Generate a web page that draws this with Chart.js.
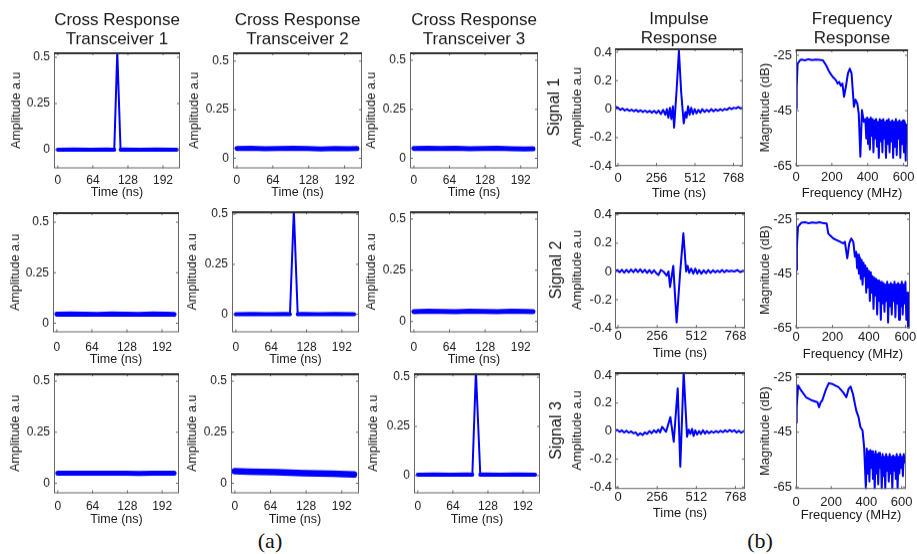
<!DOCTYPE html>
<html>
<head>
<meta charset="UTF-8">
<title>Cross, impulse and frequency responses</title>
<script src="https://cdn.jsdelivr.net/npm/chart.js"></script>
<style>
  html, body { margin: 0; padding: 0; background: #fff; overflow: hidden; }
  body { width: 917px; height: 554px; position: relative; }
  .tag {
    position: absolute;
    font-family: "Liberation Serif", "Times New Roman", serif;
    font-size: 22px;
    color: #111;
    transform: translate(-50%, -50%);
  }
</style>
</head>
<body>
<div class="tag" style="left:270px;top:541px">(a)</div>
<div class="tag" style="left:760px;top:541px">(b)</div>
<script>
// tick labels
const crossTicksX = [0, 64, 128, 192];
const crossTicksY = [0, 0.25, 0.5];
const impTicksX = [0, 256, 512, 768];
const impTicksY = [-0.4, -0.2, 0, 0.2, 0.4];
const freqTicksX = [0, 200, 400, 600];
const freqTicksY = [-65, -45, -25];

// (a) cross responses, time in ns
const flatT = [0, 25, 50, 75, 100, 125, 150, 175, 200, 214];
const crossT11 = [0, 30, 60, 90, 100, 103, 108.5, 114.5, 120, 150, 180, 217];
const crossA11 = [0, 0.002, 0, 0.002, 0, 0, 0.53, 0, 0.002, 0, 0.002, 0];
const crossA12 = [0.05, 0.051, 0.049, 0.05, 0.052, 0.05, 0.048, 0.05, 0.049, 0.05];
const crossA13 = [0.05, 0.052, 0.05, 0.051, 0.049, 0.05, 0.051, 0.049, 0.048, 0.049];
const crossA21 = [0.045, 0.046, 0.045, 0.044, 0.046, 0.045, 0.044, 0.046, 0.045, 0.044];
const crossT22 = [0, 30, 60, 90, 98, 105, 112, 120, 150, 180, 214];
const crossA22 = [0, 0.002, 0, 0.002, 0, 0.52, 0, 0.002, 0, 0.002, 0];
const crossA23 = [0.048, 0.05, 0.049, 0.048, 0.05, 0.049, 0.048, 0.05, 0.049, 0.048];
const crossA31 = [0.049, 0.05, 0.049, 0.049, 0.05, 0.049, 0.048, 0.049, 0.05, 0.049];
const crossA32 = [0.059, 0.057, 0.056, 0.054, 0.052, 0.05, 0.048, 0.047, 0.045, 0.043];
const crossT33 = [0, 30, 60, 90, 99.5, 106, 114, 120, 150, 180, 214];
const crossA33 = [0.005, 0.006, 0.004, 0.006, 0.005, 0.53, 0.005, 0.006, 0.004, 0.006, 0.005];

// (b) impulse responses, time in ns
const impT1 = [-18, -10, 0, 15, 30, 45, 60, 75, 90, 105, 120, 135, 150, 165, 180, 195, 210, 225, 240, 255,
  270, 285, 300, 315, 325, 335, 345, 355, 365, 373, 390, 405, 420, 437, 448, 456, 466, 476, 487, 498,
  510, 522, 535, 548, 560, 575, 590, 605, 620, 635, 650, 665, 680, 695, 710, 725, 740, 755, 770, 785,
  800, 815, 830];
const impA1 = [0, 0.015, 0.01, -0.005, 0.005, -0.01, 0, -0.012, -0.003, -0.015, -0.005, -0.018, -0.008, -0.02, -0.01, -0.022, -0.012, -0.025, -0.012, -0.028,
  -0.01, -0.035, -0.005, -0.04, 0, -0.06, 0.01, -0.07, 0.02, -0.13, 0.14, 0.41, 0.12, -0.1, -0.02, -0.06, 0.02, -0.04, 0.01, -0.035,
  0, -0.03, -0.005, -0.025, 0, -0.02, -0.005, -0.018, 0, -0.015, -0.002, -0.012, 0, -0.01, 0.002, -0.005, 0.01, 0, 0.01, 0.005,
  0.015, 0.005, 0.01];
const impT2 = [-18, -5, 10, 25, 40, 55, 70, 85, 100, 115, 130, 145, 160, 175, 190, 205, 220, 235, 250, 264,
  280, 296, 308, 318, 330, 340, 361, 383, 405, 427, 445, 455, 465, 478, 492, 505, 518, 530, 545, 560,
  575, 590, 605, 620, 635, 650, 665, 680, 695, 710, 725, 740, 760, 780, 800, 815, 830];
const impA2 = [0, 0.01, -0.005, 0.012, -0.008, 0.012, -0.006, 0.014, -0.005, 0.015, -0.004, 0.015, -0.006, 0.012, -0.01, 0.01, -0.012, 0.008, -0.012, -0.025,
  0.01, 0, -0.015, -0.03, 0, -0.11, 0.04, -0.36, -0.02, 0.27, 0, 0.04, -0.01, 0.02, -0.015, 0.02, -0.015, 0.01, -0.015, 0.008,
  -0.012, 0.01, -0.01, 0.008, -0.006, 0.006, -0.005, 0.01, -0.005, 0.008, 0, 0.005, 0, 0.01, -0.005, 0.005, 0];
const impT3 = [-18, -5, 10, 25, 40, 55, 70, 85, 100, 115, 130, 145, 160, 175, 190, 205, 220, 235, 250, 262,
  275, 288, 314, 342, 364, 390, 407, 429, 451, 462, 473, 484, 494, 505, 517, 530, 542, 555, 568, 580,
  595, 610, 625, 640, 655, 670, 685, 700, 715, 730, 745, 760, 775, 790, 805, 820, 830];
const impA3 = [0, 0.008, -0.005, 0.005, -0.01, 0.002, -0.012, -0.002, -0.015, -0.01, -0.03, -0.015, -0.028, -0.01, -0.02, 0, -0.015, 0.005, -0.01, 0.01,
  -0.01, 0.03, -0.005, 0.1, -0.076, 0.305, -0.255, 0.42, -0.04, 0.01, -0.02, 0.015, -0.035, 0.005, -0.025, 0, -0.02, 0.005, -0.018, 0,
  -0.015, -0.002, -0.012, 0, -0.01, 0.002, -0.008, 0.005, -0.005, 0.008, -0.004, 0.006, -0.01, 0.002, -0.012, 0, -0.01];

// (b) frequency responses, MHz and dB
const freqF1 = [0, 4, 9, 22, 30, 50, 70, 90, 110, 130, 150, 168, 186, 205, 223, 232, 241, 250, 259, 268,
  278, 290, 300, 310, 323, 332, 342, 350, 359, 368, 378, 387,
  392, 397, 402, 407, 412, 417, 422, 427, 432, 437, 442, 447, 452, 457, 462, 467, 472, 477, 482, 487,
  492, 497, 502, 507, 512, 517, 522, 527, 532, 537, 542, 547, 552, 557, 562, 567, 572, 577, 582, 587,
  592, 597, 602, 607, 612, 615];
const magF1 = [-44.2, -36.4, -28, -26.8, -26.5, -26.8, -26.4, -26.7, -26.5, -26.6, -26.8, -28.6, -31, -32.8, -34, -35.2, -34.6, -36, -35.2, -40,
  -36.4, -31.5, -29.8, -31.5, -43.6, -41, -42.4, -46, -61.6, -44.8, -49, -48,
  -55, -47.5, -57, -48, -59, -47.5, -54, -48, -60, -48.5, -55, -48, -58, -49, -62, -48, -56, -48.5, -60, -48,
  -55, -49, -62, -48.5, -57, -48, -60, -49, -56, -48.5, -62, -49, -58, -48, -61, -49, -55, -48.5, -62, -49,
  -57, -48.5, -60, -49, -63, -50];
const freqF2 = [0, 5, 11, 29, 50, 70, 90, 110, 130, 150, 168, 177, 186, 205, 223, 241, 259, 268, 281, 292,
  303, 314, 323, 330, 335, 340, 345, 350, 355, 360, 365, 370, 375, 380, 385, 390, 395, 400, 405, 410,
  415, 420, 425, 430, 435, 440, 445, 450, 455, 460, 465, 470, 475, 480, 485, 490, 495, 500, 505, 510,
  515, 520, 525, 530, 535, 540, 545, 550, 555, 560, 565, 570, 575, 580, 585, 590, 595, 600, 605, 610, 614];
const magF2 = [-43.7, -35, -27.8, -26.3, -26.1, -26.5, -26.2, -26.4, -26.1, -26.5, -26.6, -30.3, -30.9, -32.1, -32.7, -33.3, -33.9, -33.3, -39.4, -33.9,
  -32.1, -33.3, -38.8, -37, -43, -38, -45, -39, -47, -40, -49, -41, -46, -42, -52, -43, -50, -44, -55, -44.5,
  -52, -46, -58, -46.5, -53, -47, -60, -47.5, -55, -48, -62, -48, -56, -48.5, -59, -49, -55, -48, -63, -49,
  -57, -48.5, -60, -49, -55, -48, -61, -49, -56, -48.5, -62, -49, -57, -48, -60, -49, -56, -48, -62, -52, -64.5];
const freqF3 = [0, 4, 12, 29, 57, 93, 122, 131, 140, 149, 168, 186, 205, 223, 241, 268, 286, 299, 310, 323,
  342, 355, 366, 378, 387,
  392, 397, 402, 407, 412, 417, 422, 427, 432, 437, 442, 447, 452, 457, 462, 467, 472, 477, 482, 487,
  492, 497, 502, 507, 512, 517, 522, 527, 532, 537, 542, 547, 552, 557, 562, 567, 572, 577, 582, 587,
  592, 597, 602, 607, 612, 617];
const magF3 = [-41.5, -36, -28, -29.8, -32.3, -33.5, -34.1, -35.9, -34.1, -33.5, -29.8, -27.2, -27.4, -28, -28.6, -30.5, -32.3, -29.2, -28.4, -31,
  -37.1, -39.5, -43.2, -44.4, -50.5,
  -58, -66, -51, -60, -52, -63, -51.5, -58, -52, -62, -53, -66, -52, -60, -53, -64, -52.5, -58, -54, -66,
  -53, -61, -54, -66, -53, -59, -54, -63, -53, -60, -54, -66, -53.5, -59, -54, -62, -53, -66, -54, -60,
  -53, -58, -54, -61, -53, -56];

Chart.defaults.font.family = '"Liberation Sans", Arial, sans-serif';
Chart.defaults.color = '#1a1a1a';

// box round the plot area with small inward ticks
const framePlugin = {
  id: 'frame',
  afterDatasetsDraw(chart) {
    const { ctx, chartArea: a, scales } = chart;
    ctx.save();
    ctx.strokeStyle = '#666';
    ctx.lineWidth = 1;
    ctx.beginPath();
    scales.x.ticks.forEach(t => {
      const px = scales.x.getPixelForValue(t.value);
      ctx.moveTo(px, a.bottom); ctx.lineTo(px, a.bottom - 3);
      ctx.moveTo(px, a.top); ctx.lineTo(px, a.top + 3);
    });
    scales.y.ticks.forEach(t => {
      const py = scales.y.getPixelForValue(t.value);
      ctx.moveTo(a.left, py); ctx.lineTo(a.left + 3, py);
      ctx.moveTo(a.right, py); ctx.lineTo(a.right - 3, py);
    });
    ctx.stroke();
    ctx.strokeRect(a.left + 0.5, a.top + 0.5, a.width - 1, a.height - 1);
    ctx.strokeStyle = '#333';
    ctx.lineWidth = 2;
    ctx.beginPath();
    ctx.moveTo(a.left, a.top + 1); ctx.lineTo(a.right, a.top + 1);
    ctx.stroke();
    ctx.restore();
  }
};

function makePanel(p) {
  const [l, t, r, b] = p.frame;
  const sigW = p.sig ? p.sigW : 0;
  const lhTick = p.tickSize * 1.2;
  const lhLab = p.labSize * 1.2;
  const cb = p.xTitleY + lhLab / 2;
  const w = r + p.rp - p.cl;
  const h = cb - p.ct;
  const canvas = document.createElement('canvas');
  canvas.width = w;
  canvas.height = h;
  canvas.style.cssText = `position:absolute;left:${p.cl}px;top:${p.ct}px;width:${w}px;height:${h}px`;
  document.body.appendChild(canvas);

  const tickFont = { size: p.tickSize, lineHeight: 1.2 };
  const labFont = { size: p.labSize, lineHeight: 1.2 };
  const scales = {
    x: {
      type: 'linear', min: p.xr[0], max: p.xr[1],
      grid: { display: false, drawTicks: false }, border: { display: false },
      afterBuildTicks: s => { s.ticks = p.xt.map(v => ({ value: v })); },
      afterFit: s => { s.height = cb - b; },
      ticks: { font: tickFont, padding: Math.max(0, p.xTickY - b - lhTick / 2), maxRotation: 0, autoSkip: false, callback: v => String(v) },
      title: { display: true, text: p.xLabel, font: labFont, padding: { top: 0, bottom: 0 } }
    },
    y: {
      type: 'linear', position: 'left', min: p.yr[0], max: p.yr[1], weight: 0,
      grid: { display: false, drawTicks: false }, border: { display: false },
      afterBuildTicks: s => { s.ticks = p.yt.map(v => ({ value: v })); },
      afterFit: s => { s.width = l - p.cl - sigW; },
      ticks: { font: tickFont, padding: p.yTickPad, autoSkip: false, callback: v => String(v) },
      title: { display: true, text: p.yLabel, font: labFont, padding: { top: Math.max(0, p.yTitleX - (p.cl + sigW) - lhLab / 2), bottom: 0 } }
    }
  };
  if (p.sig) {
    scales.sig = {
      type: 'linear', position: 'left', weight: 1,
      grid: { display: false, drawTicks: false }, border: { display: false },
      ticks: { display: false },
      afterFit: s => { s.width = sigW; },
      title: { display: true, text: p.sig, font: { size: 16, lineHeight: 1.2 }, padding: { top: Math.max(0, p.sigX - p.cl - 9.6), bottom: 0 } }
    };
  }

  const lw = p.lw;
  const ds = {
    data: p.xs.map((x, i) => ({ x: x, y: p.ys[i] })),
    borderColor: '#0000ff',
    borderWidth: lw,
    pointRadius: 0,
    tension: 0,
    borderCapStyle: 'round',
    borderJoinStyle: 'round'
  };
  if (p.thin) {
    ds.segment = { borderWidth: c => (c.p0.parsed.y > 0.1 || c.p1.parsed.y > 0.1) ? p.thin : lw };
  }

  const titleLH = 19;
  new Chart(canvas, {
    type: 'line',
    data: { datasets: [ds] },
    options: {
      responsive: false,
      animation: false,
      events: [],
      layout: { padding: { left: 0, right: p.rp, bottom: 0, top: p.title ? 0 : t - p.ct } },
      scales: scales,
      plugins: {
        legend: { display: false },
        tooltip: { enabled: false },
        title: p.title ? {
          display: true, text: p.title, fullSize: false, color: '#1a1a1a',
          font: { size: 17, weight: 'normal', lineHeight: titleLH / 17 },
          padding: { top: p.titleTop, bottom: t - p.ct - 2 * titleLH - p.titleTop }
        } : { display: false }
      }
    },
    plugins: [framePlugin]
  });
}

// common settings of the two groups
const crossBase = { xs: flatT, xr: [-7, 223], xt: crossTicksX, yt: crossTicksY, xLabel: 'Time (ns)', yLabel: 'Amplitude a.u',
  tickSize: 12, labSize: 12.5, yTickPad: 4, rp: 4, lw: 5 };
const impBase = { xr: [-20, 830], xt: impTicksX, yt: impTicksY, xLabel: 'Time (ns)', yLabel: 'Amplitude a.u',
  tickSize: 13, labSize: 13, yTickPad: 3, rp: 4, lw: 2, cl: 540, sigW: 28, yTitleX: 577 };
const freqBase = { xr: [0, 625], xt: freqTicksX, yt: freqTicksY, xLabel: 'Frequency (MHz)', yLabel: 'Magnitude (dB)',
  tickSize: 13, labSize: 13, yTickPad: 4, rp: 8, lw: 2, cl: 750, yTitleX: 765 };

const panels = [
  { ...crossBase, frame: [54, 52, 180, 168], cl: 0, ct: 8, title: ['Cross Response', 'Transceiver 1'], titleTop: 2.5,
    xs: crossT11, ys: crossA11, yr: [-0.1, 0.527], yTitleX: 17, xTickY: 180, xTitleY: 192, lw: 4, thin: 2 },
  { ...crossBase, frame: [233, 52, 362, 168], cl: 181, ct: 8, title: ['Cross Response', 'Transceiver 2'], titleTop: 2.5,
    ys: crossA12, yr: [-0.052, 0.546], yTitleX: 195, xTickY: 180, xTitleY: 192 },
  { ...crossBase, frame: [410, 52, 538, 168], cl: 360, ct: 8, title: ['Cross Response', 'Transceiver 3'], titleTop: 2.5,
    ys: crossA13, yr: [-0.051, 0.541], yTitleX: 372, xTickY: 180, xTitleY: 192 },
  { ...crossBase, frame: [53, 212, 179, 332], cl: 0, ct: 200,
    ys: crossA21, yr: [-0.045, 0.55], yTitleX: 16, xTickY: 347, xTitleY: 359 },
  { ...crossBase, frame: [232, 211, 359, 332], cl: 181, ct: 200,
    xs: crossT22, ys: crossA22, yr: [-0.09, 0.515], yTitleX: 193, xTickY: 347, xTitleY: 359, lw: 4, thin: 2 },
  { ...crossBase, frame: [410, 209, 538, 332], cl: 360, ct: 200,
    ys: crossA23, yr: [-0.053, 0.538], yTitleX: 372, xTickY: 347, xTitleY: 359 },
  { ...crossBase, frame: [54, 373, 179, 493], cl: 0, ct: 362,
    ys: crossA31, yr: [-0.049, 0.539], yTitleX: 16, xTickY: 506, xTitleY: 519 },
  { ...crossBase, frame: [231, 373, 359, 493], cl: 181, ct: 362,
    ys: crossA32, yr: [-0.049, 0.539], yTitleX: 193, xTickY: 506, xTitleY: 519, lw: 6.5 },
  { ...crossBase, frame: [414, 373, 540, 493], cl: 360, ct: 362,
    xs: crossT33, ys: crossA33, yr: [-0.09, 0.52], yTitleX: 374, xTickY: 506, xTitleY: 519, lw: 4, thin: 2 },

  { ...impBase, frame: [615, 48, 745, 166], ct: 8, title: ['Impulse', 'Response'], titleTop: 2,
    sig: 'Signal 1', sigX: 555, xs: impT1, ys: impA1, yr: [-0.4, 0.428], xTickY: 178, xTitleY: 193 },
  { ...impBase, frame: [615, 212, 745, 328], ct: 200,
    sig: 'Signal 2', sigX: 557, xs: impT2, ys: impA2, yr: [-0.4, 0.42], xTickY: 336, xTitleY: 353 },
  { ...impBase, frame: [615, 372, 745, 489], ct: 360,
    sig: 'Signal 3', sigX: 557, xs: impT3, ys: impA3, yr: [-0.414, 0.421], xTickY: 497, xTitleY: 513 },

  { ...freqBase, frame: [796, 49, 910, 166], ct: 8, title: ['Frequency', 'Response'], titleTop: 2,
    xs: freqF1, ys: magF1, yr: [-65, -22.8], xTickY: 177, xTitleY: 193 },
  { ...freqBase, frame: [796, 212, 910, 328], ct: 200,
    xs: freqF2, ys: magF2, yr: [-65, -22.4], xTickY: 337, xTitleY: 354 },
  { ...freqBase, frame: [796, 373, 910, 489], ct: 360,
    xs: freqF3, ys: magF3, yr: [-65.7, -23.5], xTickY: 502, xTitleY: 515 }
];

panels.forEach(makePanel);
</script>
</body>
</html>
